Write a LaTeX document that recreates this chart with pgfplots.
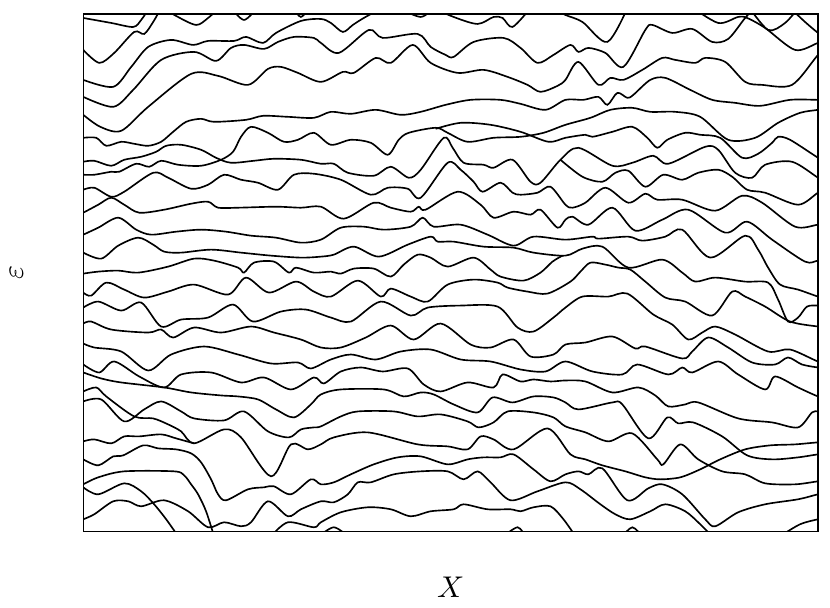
\documentclass[border=0pt]{standalone}
\usepackage{pgfplots}
\pgfplotsset{compat=1.18}
\begin{document}
\begin{tikzpicture}
\begin{axis}[
  width=245.3pt, height=172.7pt, scale only axis,
  xmin=82, xmax=818, ymin=14, ymax=532, y dir=reverse,
  xtick=\empty, ytick=\empty,
  axis line style={line width=0.5pt},
  xlabel={$X$}, ylabel={$\varepsilon$},
  every axis x label/.style={at={(axis description cs:0.5,-0.108)},anchor=center},
  every axis y label/.style={at={(axis description cs:-0.091,0.5)},rotate=90,anchor=center},
  ln/.style={black, line width=0.55pt, smooth, tension=0.5},
]
\coordinate (bbl) at (axis description cs:-0.1114,-0.1448);
\coordinate (btr) at (axis description cs:1.0163,1.027);
% top fragments
\addplot[ln] coordinates {(82,18)(110,23)(132,27)(140,20)(148,8)};
\addplot[ln] coordinates {(162,8)(175,16)(195,25)(207,18)(218,8)};
\addplot[ln] coordinates {(230,8)(243,20)(256,8)};
\addplot[ln] coordinates {(293,10)(300,17)(307,10)};
\addplot[ln] coordinates {(398,8)(420,17)(433,8)};
\addplot[ln] coordinates {(428,6)(453,17)(477,24)(493,17)(502,18)(512,27)(530,8)};
\addplot[ln] coordinates {(552,8)(565,15)(582,22)(607,42)(628,6)};
\addplot[ln] coordinates {(690,6)(718,23)(738,17)(747,18)(765,28)(795,50)(818,43)(830,40)};
\addplot[ln] coordinates {(748,6)(768,30)(785,23)(800,6)};
\addplot[ln] coordinates {(788,6)(805,22)(818,33)(830,42)};
% upper lines
\addplot[ln] coordinates {(82,50)(98,63)(113,53)(133,32)(143,34)(152,22)(160,8)};
\addplot[ln] coordinates {(82,80)(112,87)(130,67)(147,47)(170,40)(192,45)(207,41)(233,41)(245,37)(262,43)(275,33)(300,21)(320,19)(330,23)(342,32)(352,25)(363,18)(385,6)};
\addplot[ln] coordinates {(82,97)(112,107)(132,90)(160,60)(193,52)(215,61)(230,48)(243,45)(263,49)(277,42)(293,37)(313,38)(320,43)(338,53)(368,30)(382,38)(417,34)(430,47)(445,55)(453,57)(473,42)(503,38)(520,48)(537,63)(553,55)(570,45)(578,52)(588,48)(605,53)(623,67)(645,30)(652,25)(672,33)(692,29)(712,42)(728,39)(745,18)(758,4)};
\addplot[ln] coordinates {(82,115)(99,127)(120,131)(147,107)(190,74)(217,76)(247,85)(267,69)(280,67)(297,73)(320,82)(342,72)(353,73)(375,58)(390,63)(412,45)(430,63)(457,73)(483,70)(507,77)(527,85)(540,92)(557,86)(565,80)(578,62)(598,85)(610,78)(623,80)(642,70)(662,58)(675,60)(695,63)(705,58)(725,62)(745,82)(762,85)(792,85)(818,55)(830,45)};
\addplot[ln] coordinates {(82,138)(95,138)(105,146)(120,142)(133,144)(147,146)(160,142)(172,132)(185,122)(200,119)(213,122)(245,120)(262,116)(287,117)(313,118)(330,112)(350,114)(375,110)(400,115)(420,112)(445,105)(470,100)(500,100)(520,104)(545,110)(565,100)(583,100)(598,97)(607,105)(617,93)(627,98)(633,95)(650,80)(665,78)(690,90)(712,100)(735,103)(760,106)(790,100)(818,100)(830,100)};
\addplot[ln] coordinates {(82,162)(93,161)(110,166)(123,160)(140,157)(155,152)(165,146)(180,145)(200,150)(215,158)(230,163)(253,161)(273,159)(300,160)(320,164)(333,164)(347,173)(373,176)(390,167)(408,178)(420,170)(443,138)(452,148)(463,163)(483,165)(493,168)(512,160)(530,182)(540,183)(560,160)(578,148)(612,166)(632,163)(653,156)(668,164)(705,147)(718,150)(735,173)(752,178)(765,165)(792,162)(818,178)(830,185)};
\addplot[ln] coordinates {(82,175)(93,175)(110,172)(118,172)(135,164)(148,167)(160,161)(177,165)(200,166)(220,160)(232,152)(240,137)(250,127)(267,133)(283,142)(297,140)(313,133)(330,145)(350,140)(370,143)(387,155)(398,140)(408,133)(435,128)(447,133)(467,142)(493,138)(520,137)(543,133)(565,125)(590,118)(610,110)(632,108)(650,112)(675,112)(700,117)(728,140)(755,138)(778,123)(800,113)(818,110)(830,108)};
\addplot[ln] coordinates {(435,129)(460,123)(490,125)(520,132)(548,142)(565,138)(585,135)(592,137)(612,132)(632,127)(647,138)(657,148)(667,140)(685,133)(700,135)(720,138)(742,158)(758,154)(772,143)(778,137)(790,140)(818,158)(830,165)};
\addplot[ln] coordinates {(560,160)(582,177)(602,182)(615,173)(628,171)(645,187)(663,175)(682,180)(698,173)(718,170)(732,177)(747,190)(765,193)(798,205)(818,193)(830,188)};
% middle lines
\addplot[ln] coordinates {(82,190)(93,188)(110,197)(123,192)(152,173)(167,178)(190,189)(207,185)(223,175)(240,180)(257,183)(277,190)(293,175)(313,174)(340,180)(370,195)(387,188)(407,189)(420,198)(447,163)(460,170)(473,182)(482,192)(500,183)(512,193)(520,195)(537,193)(550,187)(565,205)(572,208)(585,203)(605,188)(628,203)(645,194)(657,200)(682,200)(715,211)(742,196)(762,203)(795,227)(818,225)(830,224)};
\addplot[ln] coordinates {(82,213)(97,205)(110,198)(123,205)(138,213)(163,210)(190,204)(207,202)(217,208)(237,208)(275,207)(300,208)(320,207)(343,219)(373,203)(390,208)(410,212)(418,207)(425,210)(457,192)(480,205)(493,218)(513,212)(530,215)(540,210)(557,228)(565,220)(572,217)(588,225)(612,208)(635,231)(662,220)(688,210)(725,233)(747,222)(772,240)(805,262)(818,261)(830,261)};
\addplot[ln] coordinates {(82,235)(97,228)(117,218)(135,230)(150,235)(175,232)(200,230)(225,232)(250,236)(275,238)(300,243)(320,240)(340,228)(363,227)(383,230)(410,227)(422,218)(433,227)(460,225)(487,235)(513,246)(533,237)(565,240)(592,237)(598,239)(628,237)(642,241)(665,237)(682,230)(710,258)(745,236)(758,250)(768,268)(780,285)(798,290)(818,297)(830,300)};
\addplot[ln] coordinates {(82,253)(100,259)(117,246)(137,238)(152,245)(163,252)(180,253)(210,250)(240,253)(270,256)(300,258)(320,257)(333,255)(353,247)(378,257)(407,245)(430,237)(437,242)(453,242)(483,247)(513,248)(533,253)(565,256)(582,249)(602,247)(628,268)(662,260)(682,273)(695,282)(715,278)(745,282)(768,283)(778,300)(788,322)(798,318)(807,307)(818,306)(830,306)};
\addplot[ln] coordinates {(82,274)(97,272)(117,271)(137,273)(167,267)(193,259)(213,261)(237,268)(243,273)(253,263)(273,262)(288,273)(295,268)(313,273)(330,272)(340,274)(353,269)(373,269)(390,277)(403,265)(417,255)(430,258)(447,267)(473,258)(490,270)(500,277)(523,281)(540,273)(552,262)(562,256)};
\addplot[ln] coordinates {(82,293)(90,296)(105,283)(123,290)(143,298)(167,292)(193,285)(227,295)(245,278)(268,293)(295,282)(313,292)(330,297)(357,281)(380,297)(390,289)(410,297)(427,302)(447,285)(473,280)(497,283)(507,288)(527,292)(547,294)(570,282)(580,272)(590,263)(605,265)(618,268)(630,270)(645,282)(665,298)(685,302)(712,316)(732,292)(745,297)(765,307)(790,322)(818,327)(830,328)};
\addplot[ln] coordinates {(82,308)(97,302)(120,311)(140,303)(160,327)(180,320)(207,318)(232,305)(252,322)(280,312)(305,310)(330,318)(350,322)(380,302)(410,316)(427,308)(460,306)(497,307)(517,328)(533,332)(553,318)(565,308)(582,297)(608,297)(627,294)(653,315)(672,325)(688,340)(702,333)(715,327)(735,335)(768,352)(790,350)(818,362)(830,364)};
\addplot[ln] coordinates {(82,324)(90,322)(110,330)(147,333)(160,330)(172,338)(193,328)(220,333)(250,327)(273,333)(300,340)(320,348)(340,348)(365,338)(390,326)(413,340)(440,324)(470,345)(490,348)(513,340)(530,357)(553,355)(565,345)(585,343)(612,337)(635,349)(645,347)(682,359)(692,352)(708,338)(728,348)(752,363)(775,365)(788,358)(802,365)(818,368)(830,369)};
\addplot[ln] coordinates {(82,344)(93,348)(120,352)(147,371)(170,355)(203,347)(237,355)(270,364)(297,363)(310,369)(330,360)(350,355)(375,360)(400,352)(430,350)(460,360)(490,362)(520,370)(545,372)(565,362)(592,372)(622,375)(637,365)(668,375)(682,368)(692,373)(718,362)(738,375)(765,390)(775,377)(798,388)(818,397)(830,400)};
\addplot[ln] coordinates {(82,365)(98,373)(113,362)(138,377)(163,388)(180,375)(210,373)(240,383)(263,378)(290,390)(313,378)(323,384)(340,372)(360,368)(382,372)(407,369)(423,385)(440,392)(467,383)(493,388)(502,375)(520,382)(533,380)(550,382)(565,381)(585,382)(612,393)(638,388)(655,396)(668,407)(685,405)(698,403)(738,419)(772,423)(798,428)(812,413)(818,412)(830,410)};
\addplot[ln] coordinates {(82,373)(100,379)(120,383)(163,388)(190,393)(220,396)(237,397)(257,400)(275,410)(293,418)(310,405)(320,395)(340,390)(383,390)(403,397)(420,393)(433,395)(453,405)(477,413)(492,398)(512,403)(533,397)(553,398)(565,403)(578,410)(612,403)(622,405)(648,439)(667,418)(678,424)(693,423)(722,437)(747,456)(772,460)(798,458)(818,455)(830,454)};
% lower lines
\addplot[ln] coordinates {(82,392)(95,388)(105,397)(133,417)(152,419)(167,425)(180,432)(193,444)(223,430)(240,438)(270,477)(290,445)(307,450)(320,445)(333,438)(367,433)(417,445)(447,447)(467,450)(480,437)(493,440)(513,450)(547,429)(570,455)(585,460)(602,466)(625,472)(645,478)(660,480)(680,478)(700,470)(720,460)(745,450)(770,446)(795,445)(818,443)(830,443)};
\addplot[ln] coordinates {(82,402)(100,400)(123,422)(143,410)(160,402)(180,412)(193,419)(223,421)(243,412)(267,432)(288,438)(300,430)(313,428)(320,427)(340,417)(357,412)(393,412)(417,417)(440,415)(467,422)(478,428)(493,423)(507,412)(533,413)(553,418)(565,427)(585,433)(608,442)(632,434)(657,460)(663,465)(680,445)(698,460)(722,472)(745,475)(765,484)(795,485)(818,482)(830,481)};
\addplot[ln] coordinates {(82,442)(93,440)(110,444)(123,437)(138,437)(160,435)(175,439)(193,444)};
\addplot[ln] coordinates {(82,460)(97,466)(112,457)(122,456)(142,446)(157,449)(175,450)(190,454)(200,463)(210,480)(217,495)(225,501)(247,490)(263,488)(273,487)(290,495)(310,480)(320,485)(333,483)(350,475)(373,465)(397,458)(420,457)(447,465)(467,460)(483,458)(500,458)(513,455)(533,470)(550,482)(565,475)(578,472)(588,475)(602,469)(627,501)(648,489)(662,485)(682,495)(705,520)(715,527)(738,513)(765,505)(798,500)(818,495)(830,493)};
\addplot[ln] coordinates {(82,485)(97,478)(123,472)(173,472)(183,476)(190,485)(197,495)(205,512)(213,537)};
\addplot[ln] coordinates {(82,488)(97,495)(123,484)(140,492)(153,505)(165,520)(177,537)};
\addplot[ln] coordinates {(82,520)(93,515)(112,502)(127,502)(140,507)(163,501)(187,512)(207,528)(223,523)(240,527)(250,523)(267,502)(287,517)(300,510)(320,502)(333,503)(347,495)(357,483)(370,483)(393,475)(420,472)(447,472)(463,480)(477,472)(490,483)(510,501)(537,492)(565,483)(580,490)(600,505)(615,515)(630,520)(650,512)(665,505)(685,512)(700,525)(712,537)};
\addplot[ln] coordinates {(270,537)(287,523)(313,528)(320,523)(340,513)(367,508)(390,510)(410,517)(430,512)(453,510)(463,505)(487,510)(510,510)(520,512)(533,508)(550,507)(563,520)(575,537)};
\addplot[ln] coordinates {(318,537)(333,528)(347,537)};
\addplot[ln] coordinates {(503,537)(517,528)(525,537)};
\addplot[ln] coordinates {(622,537)(632,528)(642,537)};
\addplot[ln] coordinates {(780,537)(800,525)(818,520)(830,518)};
\end{axis}
\path (bbl) rectangle (btr);
\end{tikzpicture}
\end{document}
